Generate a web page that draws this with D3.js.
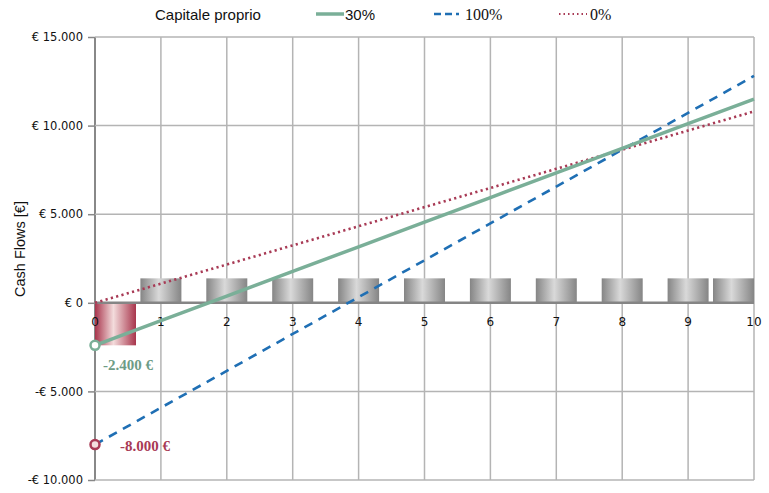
<!DOCTYPE html>
<html><head><meta charset="utf-8">
<script src="https://cdn.jsdelivr.net/npm/d3@7"></script>
<style>body{margin:0;background:#fff}svg{display:block}</style>
</head><body><svg id="c" width="769" height="493"></svg>
<script>
const years = [0,1,2,3,4,5,6,7,8,9,10];
const annualFlows = [-2400,1380,1380,1380,1380,1380,1380,1380,1380,1380,1380];
const series30 = [-2400,-1010,380,1770,3160,4550,5940,7330,8720,10110,11500];
const series100 = [-8000,-5920,-3840,-1760,320,2400,4480,6560,8640,10720,12800];
const series0 = [0,1080,2160,3240,4320,5400,6480,7560,8640,9720,10800];
const yTicks = [-10000,-5000,0,5000,10000,15000];
const legendTitle = "Capitale proprio";
const seriesNames = ["30%","100%","0%"];
const startLabels = ["-2.400 €","-8.000 €"];

const svg = d3.select("#c");
const x = d3.scaleLinear().domain([0,10]).range([95,754]);
const y = d3.scaleLinear().domain([-10000,15000]).range([480,37]);
const defs = svg.append("defs");
function grad(id, edge, mid){
  const g = defs.append("linearGradient").attr("id",id).attr("x1","0%").attr("x2","100%").attr("y1","0%").attr("y2","0%");
  g.append("stop").attr("offset","0%").attr("stop-color",edge);
  g.append("stop").attr("offset","45%").attr("stop-color",mid);
  g.append("stop").attr("offset","100%").attr("stop-color",edge);
}
grad("gGray","#858585","#d9d9d9");
grad("gRed","#a8354c","#f3dcdc");

// grid
svg.append("g").selectAll("line").data(years).join("line")
  .attr("x1",d=>x(d)).attr("x2",d=>x(d)).attr("y1",y(15000)).attr("y2",y(-10000))
  .attr("stroke",d=>d===0?"#888":"#b4b4b4").attr("stroke-width",d=>d===0?2:1.5);
svg.append("g").selectAll("line").data(yTicks).join("line")
  .attr("x1",x(0)).attr("x2",x(10)).attr("y1",d=>y(d)).attr("y2",d=>y(d))
  .attr("stroke","#b4b4b4").attr("stroke-width",1.5);

// y axis
const yAxis = d3.axisLeft(y).tickValues(yTicks).tickSize(7).tickPadding(5)
  .tickFormat(d=>(d<0?"-":"")+"€ "+d3.format(",")(Math.abs(d)).replace(/,/g,"."));
const ga = svg.append("g").attr("transform",`translate(${x(0)},0)`).call(yAxis);
ga.select(".domain").remove();
ga.selectAll(".tick line").attr("stroke","#888").attr("stroke-width",1.5);
ga.selectAll("text").attr("font-family","DejaVu Sans").attr("font-size",11.5).attr("fill","#111");

svg.append("text").attr("transform",`translate(25,249) rotate(-90)`).attr("text-anchor","middle")
  .attr("font-family","Liberation Sans").attr("font-size",14.5).attr("fill","#111").text("Cash Flows [€]");

// bars
const bw = 41;
svg.append("g").selectAll("rect").data(years).join("rect")
  .attr("x",(d)=>Math.max(x(0),Math.min(x(10)-bw,x(d)-bw/2)))
  .attr("width",bw)
  .attr("y",(d,i)=>y(Math.max(0,annualFlows[i])))
  .attr("height",(d,i)=>Math.abs(y(annualFlows[i])-y(0)))
  .attr("fill",(d,i)=>annualFlows[i]<0?"url(#gRed)":"url(#gGray)");

// zero line
svg.append("line").attr("x1",x(0)).attr("x2",x(10)).attr("y1",y(0)).attr("y2",y(0))
  .attr("stroke","#858585").attr("stroke-width",2.5);

// x labels
svg.append("g").selectAll("text").data(years).join("text")
  .attr("x",d=>x(d)).attr("y",y(0)+23).attr("text-anchor","middle")
  .attr("font-family","DejaVu Sans").attr("font-size",12).attr("fill","#111").text(d=>d);

// lines
const line = d3.line().x((d,i)=>x(years[i])).y(d=>y(d));
svg.append("path").datum(series0).attr("d",line).attr("fill","none")
  .attr("stroke","#a83a55").attr("stroke-width",2.6).attr("stroke-dasharray","2.2,3.3");
svg.append("path").datum(series100).attr("d",line).attr("fill","none")
  .attr("stroke","#1f6fb4").attr("stroke-width",2.6).attr("stroke-dasharray","9,7");
svg.append("path").datum(series30).attr("d",line).attr("fill","none")
  .attr("stroke","#7aaf98").attr("stroke-width",3.5);

// markers
svg.append("circle").attr("cx",x(0)).attr("cy",y(series30[0])).attr("r",4.5)
  .attr("fill","#fff").attr("stroke","#7aaf98").attr("stroke-width",2.5);
svg.append("circle").attr("cx",x(0)).attr("cy",y(series100[0])).attr("r",4.5)
  .attr("fill","#f3dede").attr("stroke","#a83a55").attr("stroke-width",2.5);
svg.append("text").attr("x",103).attr("y",y(series30[0])+25).attr("font-family","Liberation Serif")
  .attr("font-weight","bold").attr("font-size",15).attr("fill","#6e9c86").text(startLabels[0]);
svg.append("text").attr("x",120).attr("y",y(series100[0])+6).attr("font-family","Liberation Serif")
  .attr("font-weight","bold").attr("font-size",15).attr("fill","#a83a55").text(startLabels[1]);

// legend
svg.append("text").attr("x",155).attr("y",20).attr("font-family","Liberation Sans").attr("font-size",15)
  .attr("fill","#111").text(legendTitle);
const leg = [
  {x1:316,x2:344,tx:345,color:"#7aaf98",w:3.5,dash:null,font:"Liberation Sans",fs:15},
  {x1:434,x2:459,tx:465,color:"#1f6fb4",w:2.6,dash:"7,4",font:"Liberation Serif",fs:16},
  {x1:559,x2:587,tx:590,color:"#a83a55",w:2,dash:"1.5,3",font:"Liberation Serif",fs:16}
];
leg.forEach((l,i)=>{
  svg.append("line").attr("x1",l.x1).attr("x2",l.x2).attr("y1",14).attr("y2",14)
    .attr("stroke",l.color).attr("stroke-width",l.w).attr("stroke-dasharray",l.dash);
  svg.append("text").attr("x",l.tx).attr("y",20).attr("font-family",l.font).attr("font-size",l.fs)
    .attr("fill","#111").text(seriesNames[i]);
});
</script></body></html>
